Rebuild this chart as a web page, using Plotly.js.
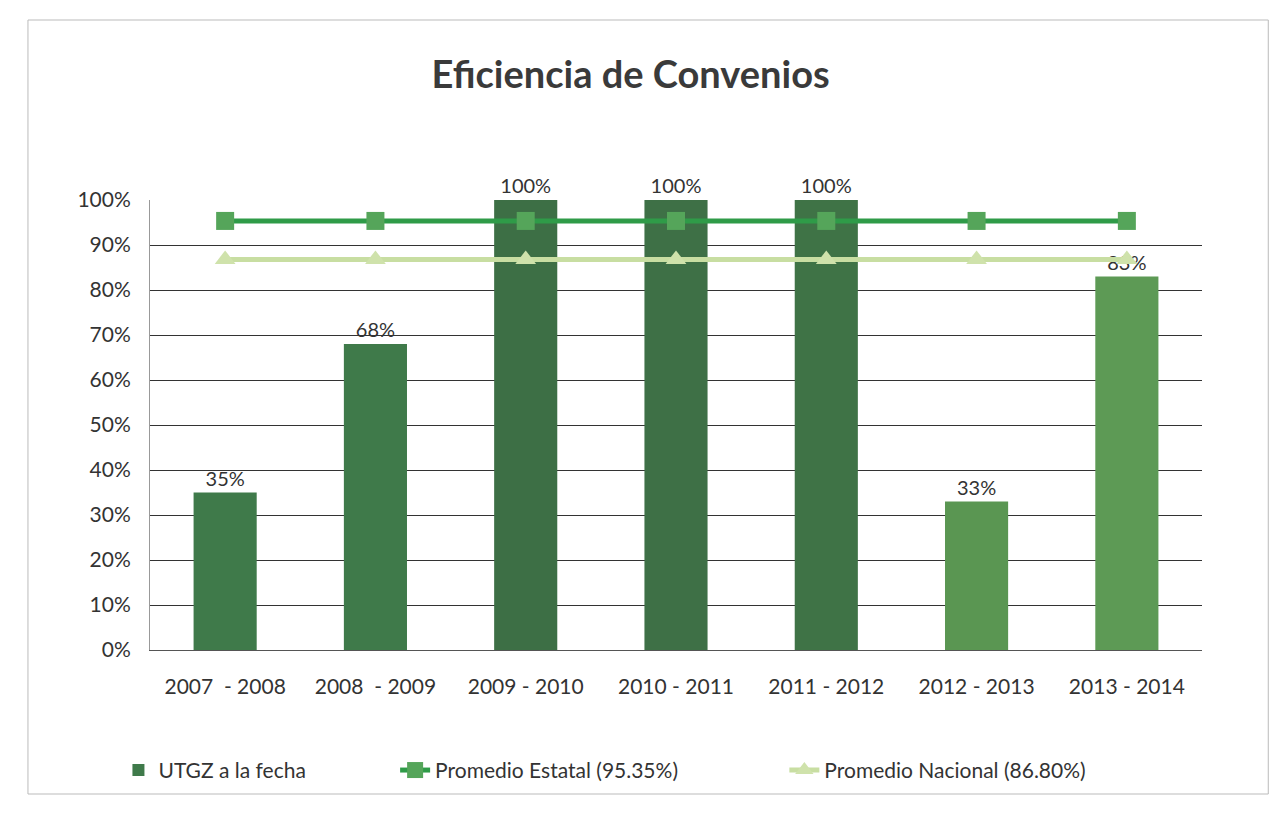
<!DOCTYPE html>
<html><head><meta charset="utf-8">
<script src="https://cdn.plot.ly/plotly-3.0.1.min.js"></script>
<style>html,body{margin:0;padding:0;background:#fff}#chart{width:1274px;height:825px}</style>
</head><body><div id="chart"></div>
<script>
const categories = ["2007  - 2008", "2008  - 2009", "2009 - 2010", "2010 - 2011", "2011 - 2012", "2012 - 2013", "2013 - 2014"];
const utgz = [0.35, 0.68, 1.00, 1.00, 1.00, 0.33, 0.83];
const utgzLabels = ["35%", "68%", "100%", "100%", "100%", "33%", "83%"];
const estatal = [0.9535, 0.9535, 0.9535, 0.9535, 0.9535, 0.9535, 0.9535];
const nacional = [0.868, 0.868, 0.868, 0.868, 0.868, 0.868, 0.868];
const barColors = ["#3f7a4a", "#3f7a4a", "#3d6f45", "#3e7046", "#3f7346", "#5a9652", "#5d9a55"];

const font = "Lato, 'Open Sans', sans-serif";
const traces = [
  {type: "bar", name: "UTGZ a la fecha", x: categories, y: utgz, text: utgzLabels, legend: "legend",
   textposition: "outside", cliponaxis: false, textfont: {size: 20, color: "#333", family: font},
   marker: {color: barColors}, width: 0.42},
  {type: "scatter", mode: "lines+markers", name: "Promedio Estatal (95.35%)", x: categories, y: estatal,
   legend: "legend2", line: {color: "#2f9b48", width: 5}, marker: {symbol: "square", size: 18, color: "#55a55a"}},
  {type: "scatter", mode: "lines+markers", name: "Promedio Nacional (86.80%)", x: categories, y: nacional,
   legend: "legend3", line: {color: "#c8dea2", width: 5}, marker: {symbol: "triangle-up", size: 18, color: "#cfe2ab"}}
];
const lg = (x) => ({orientation: "h", x: x, y: -0.222, xanchor: "left", yanchor: "top",
                    font: {size: 21, color: "#333"}, bgcolor: "rgba(0,0,0,0)"});
const layout = {
  width: 1274, height: 825,
  paper_bgcolor: "#fff", plot_bgcolor: "#fff",
  font: {family: font, color: "#333", size: 20},
  title: {text: "<b>Eficiencia de Convenios</b>", x: 0.495, xanchor: "center", y: 0.91, yanchor: "middle",
          font: {size: 38, color: "#3a3a3a", family: font}},
  margin: {l: 150, r: 72, t: 200, b: 175},
  showlegend: true,
  legend: lg(-0.03),
  legend2: lg(0.233),
  legend3: lg(0.603),
  bargap: 0.58,
  xaxis: {type: "category", showgrid: false, showline: true, linecolor: "#555", linewidth: 1,
          ticks: "", ticklabelstandoff: 18, tickfont: {size: 21, color: "#333"}},
  yaxis: {range: [0, 1], tickformat: ".0%", dtick: 0.1, showgrid: true, gridcolor: "#333",
          gridwidth: 1, zeroline: false, showline: true, linecolor: "#999", ticks: "",
          ticklabelstandoff: 14, tickfont: {size: 21, color: "#333"}},
  shapes: [{type: "rect", xref: "paper", yref: "paper", x0: -0.116, x1: 1.063, y0: -0.32, y1: 1.4,
            line: {color: "#bbb", width: 1}}]
};
Plotly.newPlot("chart", traces, layout, {displayModeBar: false});
</script></body></html>
